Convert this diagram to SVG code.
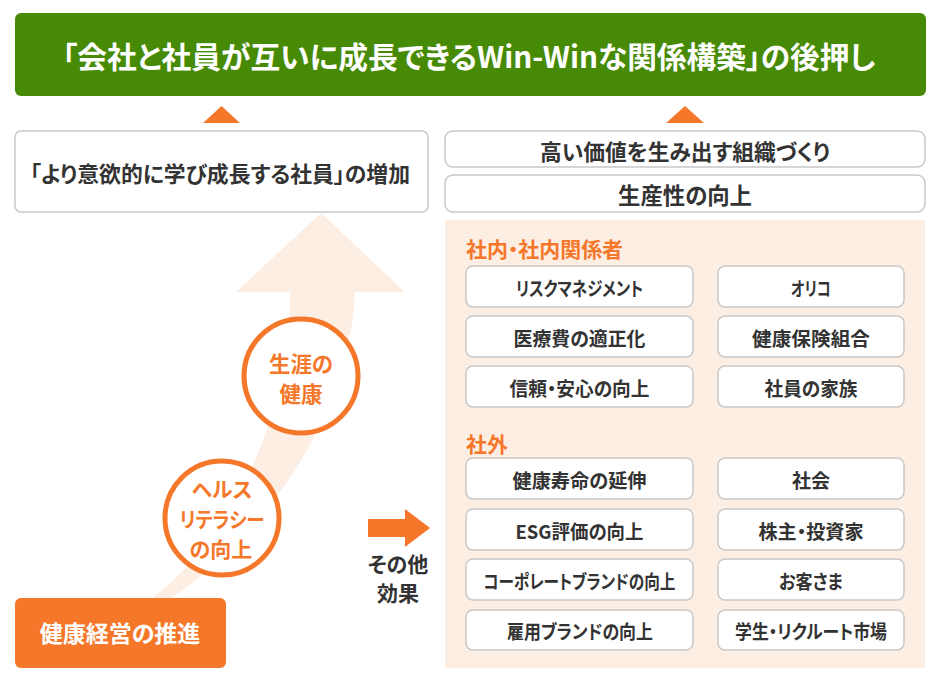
<svg xmlns="http://www.w3.org/2000/svg" width="940" height="686" viewBox="0 0 940 686">
<style>
text{font-family:"Noto Sans CJK JP","Noto Sans",sans-serif;font-weight:bold;text-anchor:middle;dominant-baseline:central;font-feature-settings:"palt";}
.dk{fill:#333333;}
.wt{fill:#ffffff;}
.or{fill:#f5772a;}
.box{fill:#ffffff;stroke:#c8c8c8;stroke-width:1.5;}
.tri{fill:#f5772a;}
.gtri{fill:#b8b8b8;}
.circ{fill:#ffffff;stroke:#f5772a;stroke-width:5;}
.row{font-size:19px;}
</style>
<rect width="940" height="686" fill="#ffffff"/>

<g id="bg-arrow">
<path d="M150 600 C230 540 290 420 290 292 L236 292 L321 213 L405 292 L355 292 C350 420 260 540 168 600 Z" fill="#fdeee3"/>
</g>

<g id="goal">
<rect x="15" y="13" width="911" height="83" rx="6" fill="#478a06"/>
<text class="wt" x="469" y="55" font-size="30" textLength="813" lengthAdjust="spacingAndGlyphs">「会社と社員が互いに成長できるWin-Winな関係構築」の後押し</text>
</g>

<g id="connectors">
<polygon class="tri" points="203,123 240,123 221.5,106"/>
<polygon class="tri" points="666,123 704,123 685,106"/>
<path d="M368 519 H405 V509 L430 528 L405 547 V537 H368 Z" fill="#f5772a"/>
<polygon class="gtri" points="700,282 712,287 700,292"/>
<polygon class="gtri" points="700,332 712,337 700,342"/>
<polygon class="gtri" points="700,382 712,387 700,392"/>
<polygon class="gtri" points="700,474 712,479 700,484"/>
<polygon class="gtri" points="700,524 712,529 700,534"/>
<polygon class="gtri" points="700,575 712,580 700,585"/>
<polygon class="gtri" points="700,625 712,630 700,635"/>
</g>

<g id="employees">
<rect class="box" x="15" y="131" width="413" height="81" rx="6"/>
<text class="dk" x="220" y="172" font-size="21.5" textLength="380" lengthAdjust="spacingAndGlyphs">「より意欲的に学び成長する社員」の増加</text>
</g>

<g id="org">
<rect class="box" x="445" y="131" width="480" height="36" rx="8"/>
<text class="dk" x="685" y="150" font-size="22" textLength="290" lengthAdjust="spacingAndGlyphs">高い価値を生み出す組織づくり</text>
</g>
<g id="productivity">
<rect class="box" x="445" y="175" width="480" height="37" rx="8"/>
<text class="dk" x="685" y="194" font-size="22.5" textLength="134" lengthAdjust="spacingAndGlyphs">生産性の向上</text>
</g>

<g id="effects-panel">
<rect x="445" y="220" width="480" height="448" fill="#fdeee3"/>
<text class="or" x="466" y="248" font-size="21" style="text-anchor:start" textLength="157" lengthAdjust="spacingAndGlyphs">社内・社内関係者</text>
<text class="or" x="466" y="443" font-size="21" style="text-anchor:start">社外</text>
</g>

<g id="r1"><rect class="box" x="466" y="266" width="227" height="41" rx="7"/><text class="dk row" x="579.5" y="287" textLength="127" lengthAdjust="spacingAndGlyphs">リスクマネジメント</text></g>
<g id="t1"><rect class="box" x="718" y="266" width="186" height="41" rx="7"/><text class="dk row" x="811" y="287" textLength="40" lengthAdjust="spacingAndGlyphs">オリコ</text></g>
<g id="r2"><rect class="box" x="466" y="316" width="227" height="41" rx="7"/><text class="dk row" x="579.5" y="337" textLength="132" lengthAdjust="spacingAndGlyphs">医療費の適正化</text></g>
<g id="t2"><rect class="box" x="718" y="316" width="186" height="41" rx="7"/><text class="dk row" x="811" y="337" textLength="118" lengthAdjust="spacingAndGlyphs">健康保険組合</text></g>
<g id="r3"><rect class="box" x="466" y="366" width="227" height="41" rx="7"/><text class="dk row" x="579.5" y="387" textLength="140" lengthAdjust="spacingAndGlyphs">信頼・安心の向上</text></g>
<g id="t3"><rect class="box" x="718" y="366" width="186" height="41" rx="7"/><text class="dk row" x="811" y="387" textLength="93" lengthAdjust="spacingAndGlyphs">社員の家族</text></g>

<g id="r4"><rect class="box" x="466" y="458" width="227" height="41" rx="7"/><text class="dk row" x="579.5" y="479" textLength="134" lengthAdjust="spacingAndGlyphs">健康寿命の延伸</text></g>
<g id="t4"><rect class="box" x="718" y="458" width="186" height="41" rx="7"/><text class="dk row" x="811" y="479" textLength="38" lengthAdjust="spacingAndGlyphs">社会</text></g>
<g id="r5"><rect class="box" x="466" y="509" width="227" height="41" rx="7"/><text class="dk row" x="579.5" y="530" textLength="128" lengthAdjust="spacingAndGlyphs">ESG評価の向上</text></g>
<g id="t5"><rect class="box" x="718" y="509" width="186" height="41" rx="7"/><text class="dk row" x="811" y="530" textLength="105" lengthAdjust="spacingAndGlyphs">株主・投資家</text></g>
<g id="r6"><rect class="box" x="466" y="559" width="227" height="41" rx="7"/><text class="dk row" x="579.5" y="580" textLength="192" lengthAdjust="spacingAndGlyphs">コーポレートブランドの向上</text></g>
<g id="t6"><rect class="box" x="718" y="559" width="186" height="41" rx="7"/><text class="dk row" x="811" y="580" textLength="64" lengthAdjust="spacingAndGlyphs">お客さま</text></g>
<g id="r7"><rect class="box" x="466" y="610" width="227" height="40" rx="7"/><text class="dk row" x="580" y="630" textLength="146" lengthAdjust="spacingAndGlyphs">雇用ブランドの向上</text></g>
<g id="t7"><rect class="box" x="718" y="610" width="186" height="40" rx="7"/><text class="dk row" x="811" y="630" textLength="152" lengthAdjust="spacingAndGlyphs">学生・リクルート市場</text></g>

<g id="lifelong">
<circle class="circ" cx="301" cy="376" r="57"/>
<text class="or" x="301" y="362" font-size="21.5">生涯の</text>
<text class="or" x="301" y="392" font-size="21.5">健康</text>
</g>
<g id="literacy">
<circle class="circ" cx="222" cy="518" r="57"/>
<text class="or" x="222" y="488" font-size="21">ヘルス</text>
<text class="or" x="222" y="518" font-size="21" textLength="85" lengthAdjust="spacingAndGlyphs">リテラシー</text>
<text class="or" x="221" y="548" font-size="21">の向上</text>
</g>

<g id="other">
<text class="dk" x="398" y="563" font-size="21">その他</text>
<text class="dk" x="398" y="592" font-size="21">効果</text>
</g>

<g id="start">
<rect x="15" y="598" width="211" height="70" rx="6" fill="#f5772a"/>
<text class="wt" x="120" y="632" font-size="23">健康経営の推進</text>
</g>
</svg>
